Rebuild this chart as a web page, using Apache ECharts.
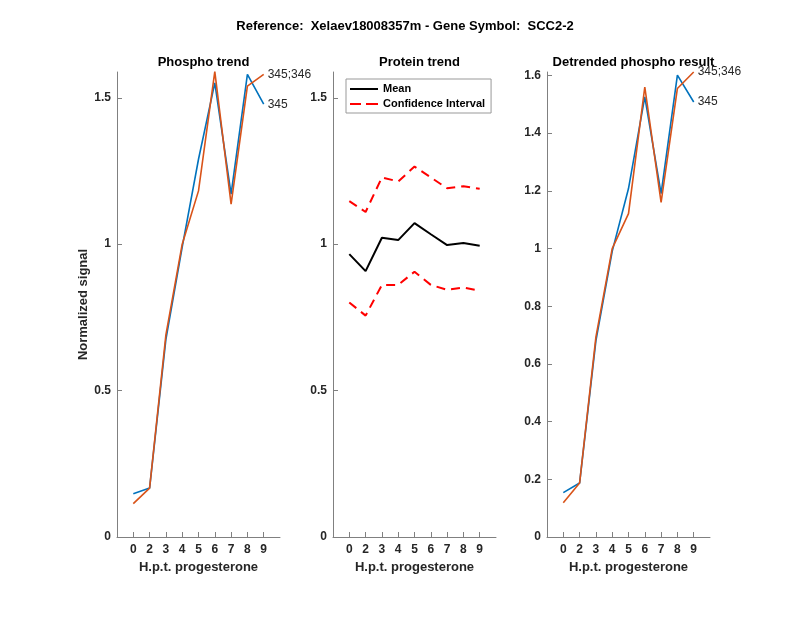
<!DOCTYPE html>
<html>
<head>
<meta charset="utf-8">
<script src="https://cdn.jsdelivr.net/npm/echarts@6/dist/echarts.min.js"></script>
<style>
html,body{margin:0;padding:0;background:#fff;}
#c{width:800px;height:618px;}
</style>
</head>
<body>
<div id="c"></div>
<script>
// ---- data ----
const categories = ['0','2','3','4','5','6','7','8','9'];
const phospho345 = [0.148,0.167,0.675,0.99,1.29,1.551,1.171,1.58,1.478];
const phospho345_346 = [0.114,0.167,0.69,1.0,1.182,1.589,1.137,1.54,1.58];
const proteinMean = [0.966,0.908,1.022,1.014,1.072,1.034,0.997,1.004,0.995];
const proteinCIUpper = [1.147,1.110,1.228,1.214,1.265,1.228,1.191,1.198,1.189];
const proteinCILower = [0.801,0.756,0.861,0.861,0.906,0.861,0.844,0.852,0.841];
const detrended345 = [0.154,0.187,0.68,0.99,1.208,1.526,1.19,1.601,1.508];
const detrended345_346 = [0.119,0.187,0.693,1.0,1.121,1.560,1.16,1.555,1.612];
const yTicksLeft = [0,0.5,1,1.5];
const yTicksRight = [0,0.2,0.4,0.6,0.8,1,1.2,1.4,1.6];
const mainTitle = 'Reference:  Xelaev18008357m - Gene Symbol:  SCC2-2';
const panelTitles = ['Phospho trend','Protein trend','Detrended phospho result'];

// ---- helpers ----
const xPositions = categories.map((c,i)=>i+1);
const toPts = arr => arr.map((v,i)=>[i+1, v]);
const txt = '#262626';
const axisGray = '#808080';
const BLUE = '#0072BD', ORANGE = '#D95319';
const FONT = 'Liberation Sans, Arial';

const gridTop = 72, gridH = 465, gridW = 163;
const gridLefts = [117, 333, 547];

function xAxis(idx){
  return {
    type:'value', gridIndex:idx, min:0, max:10,
    axisLine:{show:true, lineStyle:{color:axisGray}},
    axisTick:{show:true, inside:true, length:5, lineStyle:{color:axisGray}, customValues:xPositions},
    axisLabel:{show:true, color:txt, fontSize:12, fontWeight:'bold', fontFamily:FONT, margin:7,
      customValues:xPositions, formatter:v=>categories[Math.round(v)-1] ?? ''},
    splitLine:{show:false},
    name:'H.p.t. progesterone', nameLocation:'middle', nameGap:23,
    nameTextStyle:{color:txt, fontSize:13, fontWeight:'bold', fontFamily:FONT}
  };
}
function yAxis(idx, max, ticks, name){
  return {
    type:'value', gridIndex:idx, min:0, max:max,
    axisLine:{show:true, lineStyle:{color:axisGray}},
    axisTick:{show:true, inside:true, length:5, lineStyle:{color:axisGray}, customValues:ticks},
    axisLabel:{show:true, color:txt, fontSize:12, fontWeight:'bold', fontFamily:FONT, margin:6,
      customValues:ticks, formatter:v=>String(Math.round(v*10)/10)},
    splitLine:{show:false},
    name:name||'', nameLocation:'middle', nameGap:21,
    nameTextStyle:{color:txt, fontSize:13, fontWeight:'bold', fontFamily:FONT}
  };
}
function phosphoSeries(name, data, color, idx){
  return {
    type:'line', name:name, xAxisIndex:idx, yAxisIndex:idx, data:toPts(data),
    symbol:'none', lineStyle:{color:color, width:1.6}, itemStyle:{color:color},
    clip:false,
    endLabel:{show:true, formatter:name, color:txt, fontSize:12, fontFamily:FONT, distance:4}
  };
}

const chart = echarts.init(document.getElementById('c'), null, {renderer:'canvas'});
chart.setOption({
  animation:false,
  backgroundColor:'#fff',
  title:[
    {text:mainTitle, left:400, top:15, textAlign:'center',
     textStyle:{color:'#000', fontSize:13, fontWeight:'bold', fontFamily:FONT}},
    {text:panelTitles[0], left:gridLefts[0]+gridW/2, top:51, textAlign:'center',
     textStyle:{color:'#000', fontSize:13, fontWeight:'bold', fontFamily:FONT}},
    {text:panelTitles[1], left:gridLefts[1]+gridW/2, top:51, textAlign:'center',
     textStyle:{color:'#000', fontSize:13, fontWeight:'bold', fontFamily:FONT}},
    {text:panelTitles[2], left:gridLefts[2]+gridW/2, top:51, textAlign:'center',
     textStyle:{color:'#000', fontSize:13, fontWeight:'bold', fontFamily:FONT}}
  ],
  legend:{
    data:[
      {name:'Mean', icon:'path://M0,0h28v2h-28z', itemStyle:{color:'#000'}},
      {name:'Confidence Interval', icon:'path://M0,0h11v2h-11zM16,0h12v2h-12z', itemStyle:{color:'#FF0000'}}
    ],
    orient:'vertical', left:346, top:79,
    backgroundColor:'#fff', borderColor:'#999', borderWidth:1,
    padding:[4,6,3,4], itemGap:3, itemWidth:28, itemHeight:2,
    textStyle:{color:'#000', fontSize:11, fontWeight:'bold', fontFamily:FONT, lineHeight:12},
    selectedMode:false
  },
  grid:gridLefts.map(l=>({left:l, top:gridTop, width:gridW, height:gridH, containLabel:false})),
  xAxis:[xAxis(0), xAxis(1), xAxis(2)],
  yAxis:[yAxis(0,1.588,yTicksLeft,'Normalized signal'), yAxis(1,1.588,yTicksLeft), yAxis(2,1.612,yTicksRight)],
  series:[
    phosphoSeries('345', phospho345, BLUE, 0),
    phosphoSeries('345;346', phospho345_346, ORANGE, 0),
    {type:'line', name:'Mean', xAxisIndex:1, yAxisIndex:1, data:toPts(proteinMean),
     symbol:'none', lineStyle:{color:'#000', width:2}, itemStyle:{color:'#000'}},
    {type:'line', name:'Confidence Interval', xAxisIndex:1, yAxisIndex:1, data:toPts(proteinCIUpper),
     symbol:'none', lineStyle:{color:'#FF0000', width:2, type:[9,6]}, itemStyle:{color:'#FF0000'}},
    {type:'line', name:'Confidence Interval', xAxisIndex:1, yAxisIndex:1, data:toPts(proteinCILower),
     symbol:'none', lineStyle:{color:'#FF0000', width:2, type:[9,6]}, itemStyle:{color:'#FF0000'}},
    phosphoSeries('345', detrended345, BLUE, 2),
    phosphoSeries('345;346', detrended345_346, ORANGE, 2)
  ]
});
</script>
</body>
</html>
